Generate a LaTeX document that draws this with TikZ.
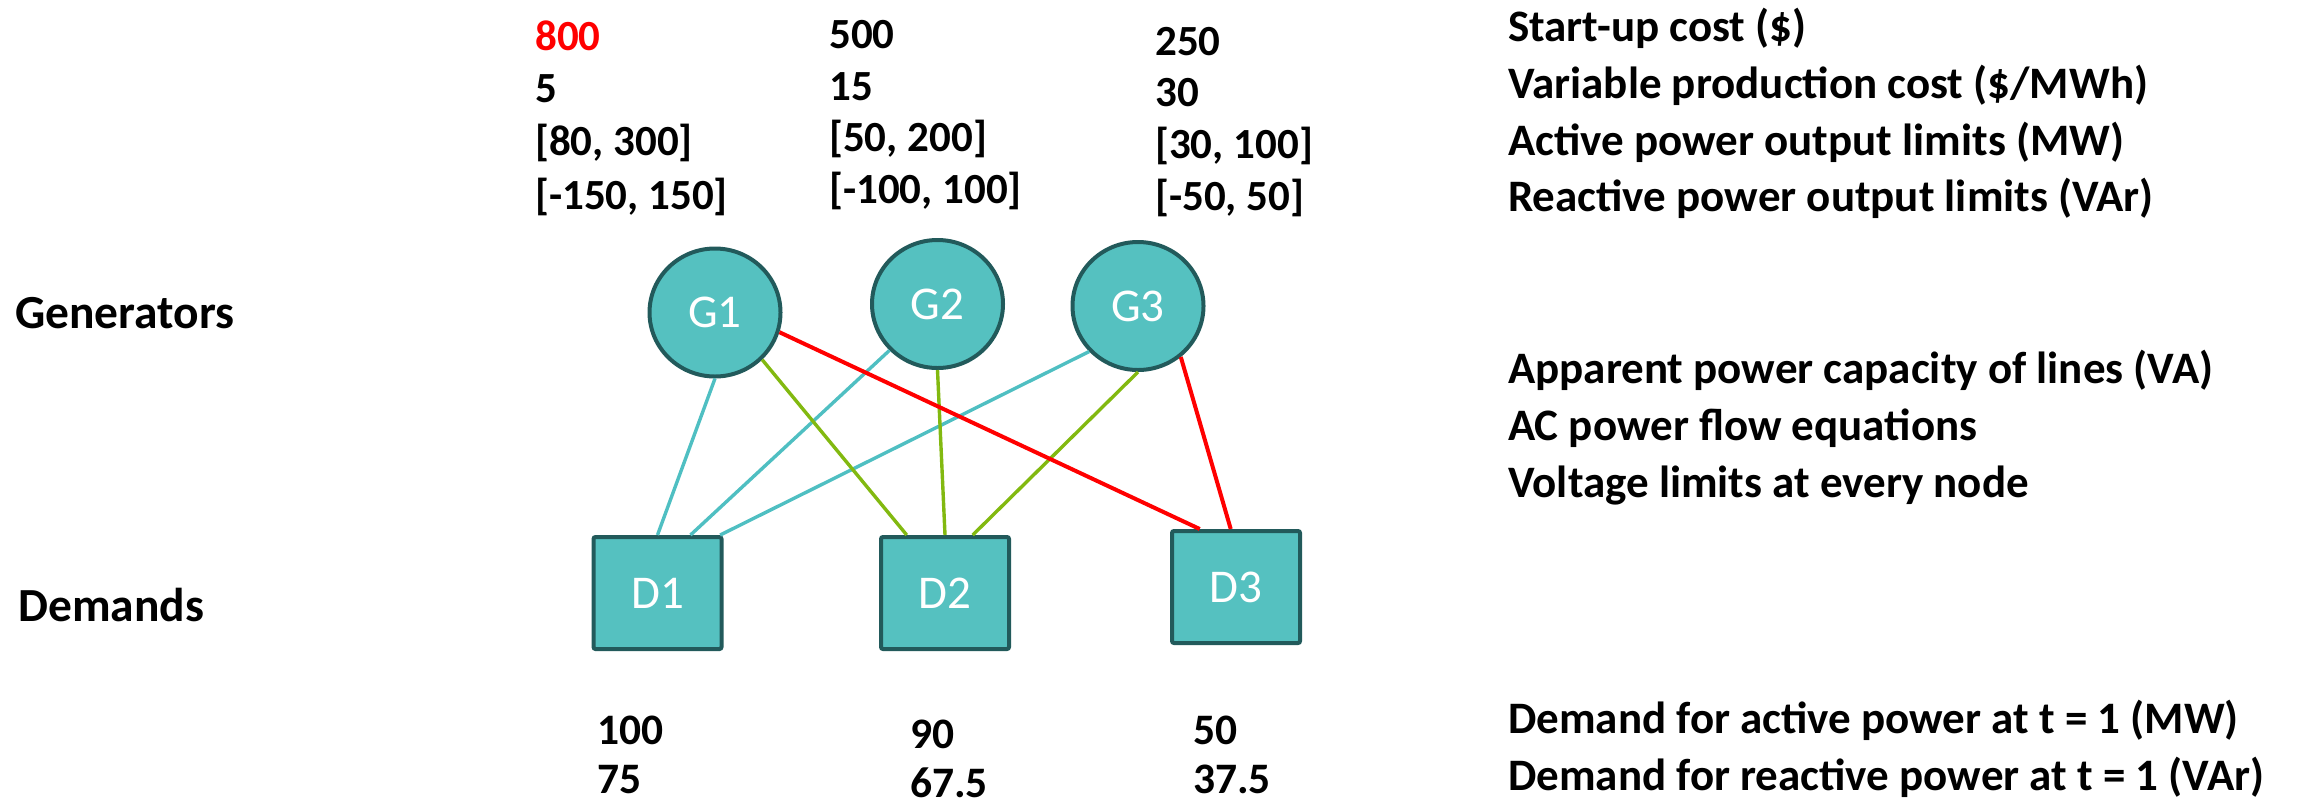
\documentclass[tikz,border=0pt]{standalone}
\usepackage{fontspec}
\setmainfont{Carlito}
\usetikzlibrary{shapes.geometric,calc}

\definecolor{nodefill}{HTML}{55C1C0}
\definecolor{nodeedge}{HTML}{225A5B}
\definecolor{linecyan}{HTML}{4FBFC2}
\definecolor{linegreen}{HTML}{82B910}
\definecolor{linered}{HTML}{FF0000}

\tikzset{
  gen/.style={ellipse, draw=nodeedge, fill=nodefill, line width=4pt,
    minimum width=131pt, minimum height=128pt, inner sep=0pt,
    text=white, font=\fontsize{47}{56}\selectfont},
  dem/.style={rectangle, rounded corners=2pt, draw=nodeedge, fill=nodefill, line width=4pt,
    minimum width=128pt, minimum height=112pt, inner sep=0pt,
    text=white, font=\fontsize{47}{56}\selectfont},
  lbl/.style={anchor=base west, inner sep=0pt, font=\bfseries\fontsize{47.5}{56}\selectfont},
  num/.style={anchor=base west, inner sep=0pt, font=\bfseries\fontsize{43}{52}\selectfont},
  bnum/.style={anchor=base west, inner sep=0pt, text depth=0pt,
    font=\bfseries\fontsize{43.5}{52}\selectfont},
  desc/.style={anchor=base west, inner sep=0pt, font=\bfseries\fontsize{45}{54}\selectfont},
  cyanline/.style={draw=linecyan, line width=3.4pt},
  greenline/.style={draw=linegreen, line width=3.4pt},
  redline/.style={draw=linered, line width=4pt},
}

\begin{document}
\begin{tikzpicture}[x=1pt, y=-1pt]
\useasboundingbox (0,0) rectangle (2319,804);

% row labels
\node[lbl] (lgen) at (15,328) {Generators};
\node[lbl] (ldem) at (18,621) {Demands};

% generator data columns
\node[num, text=red] (c1a) at (535,50) {800};
\node[num] (c1b) at (535,102.5) {5};
\node[num] (c1c) at (535,155.5) {[80, 300]};
\node[num] (c1d) at (535,209) {[-150, 150]};

\node[num] (c2a) at (829,48.5) {500};
\node[num] (c2b) at (829,100) {15};
\node[num] (c2c) at (829,151.5) {[50, 200]};
\node[num] (c2d) at (829,203) {[-100, 100]};

\node[num] (c3a) at (1155,55) {250};
\node[num] (c3b) at (1155,106.5) {30};
\node[num] (c3c) at (1155,158.5) {[30, 100]};
\node[num] (c3d) at (1155,210) {[-50, 50]};

% parameter descriptions
\node[desc] (r1) at (1508,41.5) {Start-up cost (\$)};
\node[desc] (r2) at (1508,98.2) {Variable production cost (\$/MWh)};
\node[desc] (r3) at (1508,155) {Active power output limits (MW)};
\node[desc] (r4) at (1508,211.5) {Reactive power output limits (VAr)};

\node[desc] (m1) at (1508,383) {Apparent power capacity of lines (VA)};
\node[desc] (m2) at (1508,440) {AC power flow equations};
\node[desc] (m3) at (1508,497) {Voltage limits at every node};

\node[desc] (b1) at (1508,733) {Demand for active power at t = 1 (MW)};
\node[desc] (b2) at (1508,790) {Demand for reactive power at t = 1 (VAr)};

% demand values
\node[bnum] (d1a) at (597.5,744) {100};
\node[bnum] (d1b) at (597.5,793) {75};
\node[bnum] (d2a) at (910,748) {90};
\node[bnum] (d2b) at (910,797) {67.5};
\node[bnum] (d3a) at (1193,744) {50};
\node[bnum] (d3b) at (1193,793) {37.5};

% network nodes
\node[gen] (G1) at (715,312.5) {G1};
\node[gen] (G2) at (937.5,304) {G2};
\node[gen] (G3) at (1138,306) {G3};
\node[dem] (D1) at (657.5,593) {D1};
\node[dem] (D2) at (945,593) {D2};
\node[dem] (D3) at (1236,587) {D3};

% lines
\draw[cyanline] (G1.south) -- (D1.north);
\draw[cyanline] (G2.224) -- ($(D1.north)!0.5!(D1.north east)$);
\draw[cyanline] (G3.223) -- ($(D1.north)!0.95!(D1.north east)$);
\draw[greenline] (G1.-45) -- ($(D2.north)!0.58!(D2.north west)$);
\draw[greenline] (G2.south) -- (D2.north);
\draw[greenline] (G3.south) -- ($(D2.north)!0.42!(D2.north east)$);
\draw[redline] (G1.-17) -- ($(D3.north)!0.55!(D3.north west)$);
\draw[redline] (G3.-50) -- ($(D3.north)!0.08!(D3.north west)$);
\end{tikzpicture}
\end{document}
